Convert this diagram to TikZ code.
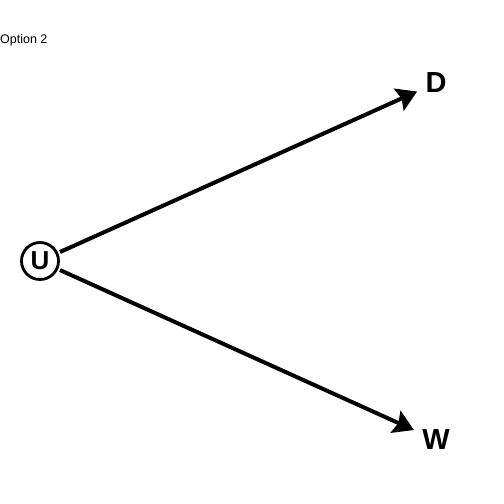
\documentclass[tikz,border=0pt]{standalone}
\usepackage{fontspec}
\setmainfont{Liberation Sans}
\usetikzlibrary{arrows.meta}
\begin{document}
\begin{tikzpicture}[x=1pt,y=-1pt,
  lbl/.style={font=\fontsize{29}{29}\selectfont\bfseries, inner sep=0pt},
  circnode/.style={circle, draw, line width=2.8pt, minimum size=37pt, inner sep=0pt, font=\fontsize{26}{26}\selectfont\bfseries},
  edge/.style={line width=4pt, -{Stealth[length=20pt,width=24pt,inset=3pt]}, shorten <=2pt, shorten >=9pt}]
\useasboundingbox (0,0) rectangle (504,504);
\node[anchor=west, inner sep=0pt, font=\fontsize{12.5}{12.5}\selectfont] (title) at (0,40) {Option 2};
\node[circnode] (U) at (40,261) {U};
\node[lbl] (D) at (436,83) {D};
\node[lbl] (W) at (436,440) {W};
\draw[edge] (U) -- (D);
\draw[edge] (U) -- (W);
\end{tikzpicture}
\end{document}
